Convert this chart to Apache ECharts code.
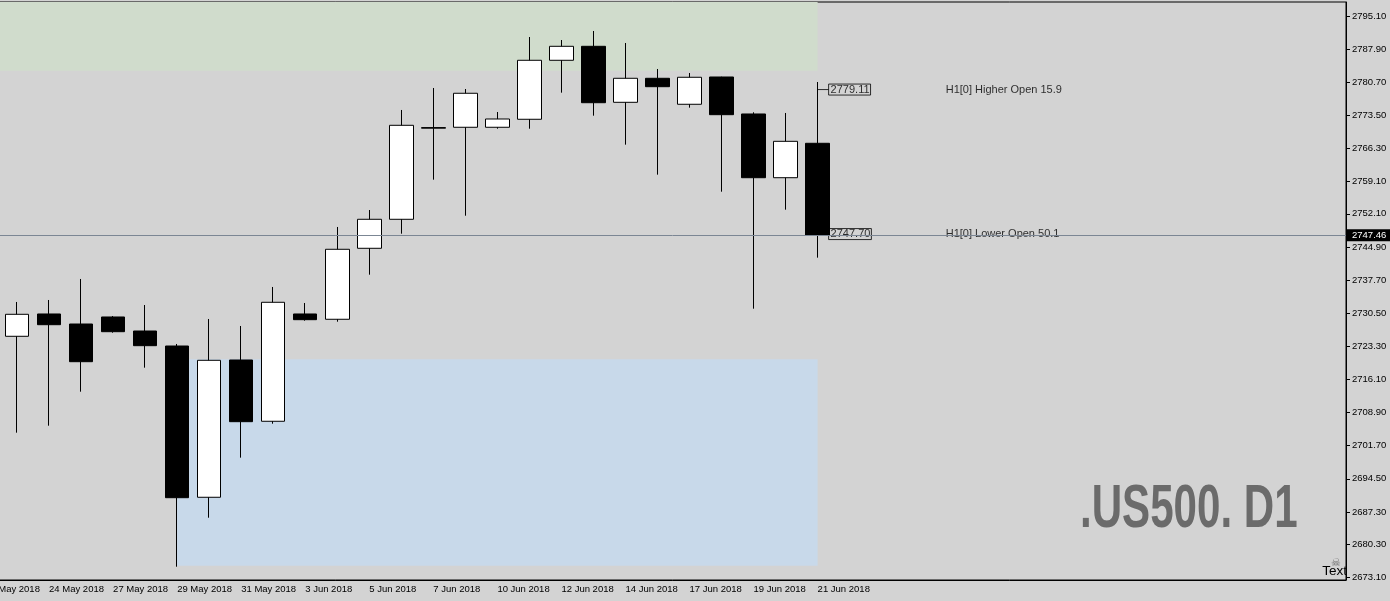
<!DOCTYPE html>
<html>
<head>
<meta charset="utf-8">
<script src="https://cdn.jsdelivr.net/npm/echarts@6/dist/echarts.min.js"></script>
<style>
  html, body { margin: 0; padding: 0; background: #d3d3d3; }
  #main { width: 1390px; height: 601px; }
</style>
</head>
<body>
<div id="main"></div>
<script>
// daily bars, first one (22 May) is scrolled off the left edge
var dates = ['22 May 2018', '23 May 2018', '24 May 2018', '25 May 2018', '27 May 2018', '28 May 2018',
  '29 May 2018', '30 May 2018', '31 May 2018', '1 Jun 2018', '3 Jun 2018', '4 Jun 2018', '5 Jun 2018',
  '6 Jun 2018', '7 Jun 2018', '8 Jun 2018', '10 Jun 2018', '11 Jun 2018', '12 Jun 2018', '13 Jun 2018',
  '14 Jun 2018', '15 Jun 2018', '17 Jun 2018', '18 Jun 2018', '19 Jun 2018', '20 Jun 2018', '21 Jun 2018']
var emptyBars = 16  // free space right of the last bar

var opens  = [null, 2725.48, 2730.33, 2728.15, 2729.68, 2726.63, 2723.37, 2690.49, 2720.33, 2707.01,
  2730.33, 2729.18, 2744.61, 2750.91, 2770.70, 2770.91, 2770.91, 2772.65, 2785.47, 2788.51, 2776.34,
  2781.56, 2775.91, 2781.84, 2773.80, 2759.95, 2767.43]
var highs  = [null, 2732.94, 2733.37, 2737.94, 2729.89, 2732.28, 2723.81, 2729.24, 2727.72, 2736.20,
  2732.72, 2749.24, 2752.93, 2774.67, 2779.45, 2779.23, 2774.23, 2790.53, 2789.88, 2791.84, 2789.23,
  2783.58, 2782.71, 2781.90, 2774.17, 2774.02, 2780.75]
var lows   = [null, 2704.53, 2706.05, 2713.44, 2726.26, 2718.66, 2675.40, 2686.05, 2699.10, 2706.48,
  2728.87, 2728.65, 2738.87, 2747.78, 2759.52, 2751.69, 2770.60, 2770.60, 2778.43, 2773.43, 2767.13,
  2760.61, 2775.17, 2756.91, 2731.48, 2753.00, 2742.57]
var closes = [null, 2730.26, 2728.00, 2719.96, 2726.48, 2723.44, 2690.40, 2720.26, 2706.92, 2732.87,
  2729.09, 2744.39, 2750.91, 2771.34, 2770.85, 2778.30, 2772.71, 2785.47, 2788.51, 2776.25, 2781.56,
  2779.73, 2781.78, 2773.65, 2759.95, 2767.86, 2747.46]

var priceTicks = [2795.10, 2787.90, 2780.70, 2773.50, 2766.30, 2759.10, 2752.10, 2744.90, 2737.70,
  2730.50, 2723.30, 2716.10, 2708.90, 2701.70, 2694.50, 2687.30, 2680.30, 2673.10]
var lastPrice = 2747.46
var levels = [2779.11, 2747.70]
var levelTexts = ['H1[0] Higher Open 15.9', 'H1[0] Lower Open 50.1']
var supplyZone = [2798.14, 2783.21]  // green
var demandZone = [2720.48, 2675.62]  // blue

var fontAxis = 'Liberation Sans, Arial, sans-serif'

var categories = dates.slice()
for (var i = 0; i < emptyBars; i++) categories.push('')
var lastIdx = dates.length - 1

var candles = dates.map(function (d, i) {
  if (opens[i] == null) return '-'
  return [opens[i], closes[i], lows[i], highs[i]]
})

var myChart = echarts.init(document.getElementById('main'))

var everyOther = function (idx, val) { return idx % 2 === 0 && val !== '' }

var option = {
  backgroundColor: '#d3d3d3',
  animation: false,
  grid: {
    left: -31,
    right: 44,
    top: 2,
    bottom: 21,
    outerBoundsMode: 'none',
    containLabel: false,
    show: true,
    backgroundColor: '#d3d3d3',
    borderColor: '#000',
    borderWidth: 1
  },
  xAxis: {
    type: 'category',
    data: categories,
    boundaryGap: true,
    axisLine: { show: true, lineStyle: { color: '#000' } },
    axisTick: { alignWithLabel: true, interval: everyOther, length: 5, lineStyle: { color: '#000' } },
    axisLabel: {
      interval: everyOther,
      align: 'left',
      margin: 4,
      color: '#000',
      fontSize: 9.5,
      fontFamily: fontAxis
    },
    splitLine: { show: false }
  },
  yAxis: {
    type: 'value',
    position: 'right',
    min: 2672.51,
    max: 2798.14,
    scale: true,
    axisLine: { show: true, lineStyle: { color: '#000' } },
    axisTick: { show: true, length: 4, customValues: priceTicks, lineStyle: { color: '#000' } },
    axisLabel: {
      customValues: priceTicks,
      margin: 6,
      color: '#000',
      fontSize: 9.5,
      fontFamily: fontAxis,
      formatter: function (v) { return v.toFixed(2) }
    },
    splitLine: { show: false }
  },
  series: [
    {
      // zones and price line, kept under the bars
      type: 'line',
      z: 1,
      data: [],
      markArea: {
        silent: true,
        data: [
          [{ coord: [0, supplyZone[0]], itemStyle: { color: '#d0dccc' } }, { coord: [lastIdx, supplyZone[1]] }],
          [{ coord: [6, demandZone[0]], itemStyle: { color: '#c8d9ea' } }, { coord: [lastIdx, demandZone[1]] }]
        ]
      },
      markLine: {
        silent: true,
        symbol: 'none',
        lineStyle: { color: '#7b8694', width: 1, type: 'solid' },
        label: {
          show: true,
          position: 'end',
          distance: 1,
          formatter: lastPrice.toFixed(2),
          backgroundColor: '#000',
          color: '#fff',
          fontSize: 9.5,
          fontFamily: fontAxis,
          padding: [1, 8, 1, 5]
        },
        data: [{ yAxis: lastPrice }]
      }
    },
    {
      name: '.US500',
      type: 'candlestick',
      z: 2,
      barWidth: 24,
      data: candles,
      itemStyle: {
        color: '#ffffff',
        color0: '#000000',
        borderColor: '#000000',
        borderColor0: '#000000',
        borderWidth: 1
      }
    },
    {
      // price boxes next to the last bar
      type: 'scatter',
      z: 3,
      symbol: 'rect',
      symbolSize: [11, 1],
      symbolOffset: [5.5, 0],
      itemStyle: { color: '#000' },
      data: levels.map(function (v) { return [lastIdx, v] }),
      label: {
        show: true,
        position: 'right',
        distance: 0,
        formatter: function (p) { return p.value[1].toFixed(2) },
        color: '#000',
        fontSize: 11,
        lineHeight: 11,
        fontFamily: fontAxis,
        borderColor: '#000',
        borderWidth: 1,
        padding: [0, 1, 0, 2]
      }
    },
    {
      type: 'scatter',
      z: 3,
      symbolSize: 0,
      data: levels.map(function (v, i) { return { value: [lastIdx + 4, v], name: levelTexts[i] } }),
      label: {
        show: true,
        position: 'right',
        distance: 0,
        formatter: function (p) { return p.name },
        color: '#000',
        fontSize: 11,
        fontFamily: fontAxis
      }
    }
  ],
  graphic: [
    {
      type: 'text',
      x: 14, y: 10,
      style: { text: lastPrice.toFixed(2), textAlign: 'right', textVerticalAlign: 'middle',
        fill: '#000', font: '9.5px Liberation Sans' }
    },
    {
      type: 'text',
      x: 1080, y: 510,
      scaleX: 0.69,
      style: { text: '.US500. D1', textAlign: 'left', textVerticalAlign: 'middle',
        fill: '#6b6b6b', font: 'bold 61px Liberation Sans' }
    },
    {
      type: 'text',
      x: 1336, y: 563,
      style: { text: '\u2620', textAlign: 'center', textVerticalAlign: 'middle',
        fill: '#6e6e6e', font: '11px DejaVu Sans' }
    },
    {
      type: 'text',
      x: 1347, y: 578,
      style: { text: 'Text', textAlign: 'right', textVerticalAlign: 'bottom',
        fill: '#000', font: '13.5px Liberation Sans' }
    }
  ]
}

myChart.setOption(option)
</script>
</body>
</html>
